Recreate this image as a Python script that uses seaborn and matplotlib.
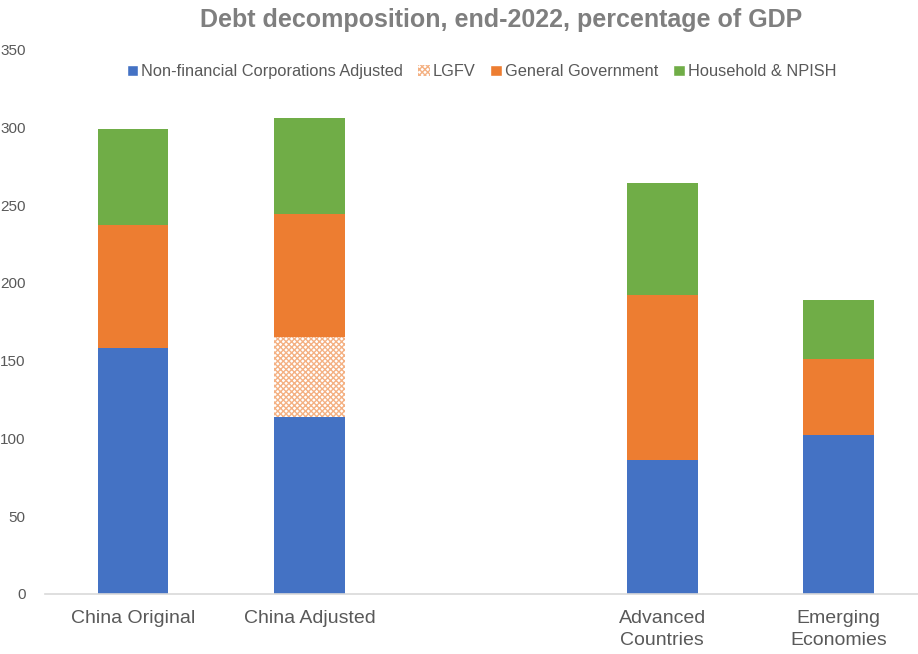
import numpy as np
import pandas as pd
import matplotlib
matplotlib.use("Agg")
import matplotlib.pyplot as plt
import seaborn as sns
from matplotlib.patches import Patch

sns.set_theme(style="white")
plt.rcParams['font.family'] = ['Liberation Sans', 'DejaVu Sans']

categories = ["China Original", "China Adjusted", "", "Advanced\nCountries", "Emerging\nEconomies"]
nfc = [158, 114, 0, 86, 102]
lgfv = [0, 51, 0, 0, 0]
gov = [79, 79, 0, 106, 49]
household = [62, 62, 0, 72, 38]

blue = "#4472C4"
orange = "#ED7D31"
green = "#70AD47"
grey = "#595959"

df = pd.DataFrame({"category": categories, "nfc": nfc, "lgfv": lgfv,
                   "gov": gov, "household": household})
df["c1"] = df["nfc"]
df["c2"] = df["c1"] + df["lgfv"]
df["c3"] = df["c2"] + df["gov"]
df["c4"] = df["c3"] + df["household"]

fig = plt.figure(figsize=(9.18, 6.54), dpi=100)
ax = fig.add_axes([0.049, 0.092, 0.951, 0.832])

# stacked by overlaying cumulative totals, largest first
sns.barplot(data=df, x="category", y="c4", order=categories, color=green,
            saturation=1, width=0.4, linewidth=0, ax=ax)
sns.barplot(data=df, x="category", y="c3", order=categories, color=orange,
            saturation=1, width=0.4, linewidth=0, ax=ax)
sns.barplot(data=df, x="category", y="c2", order=categories, color="white",
            saturation=1, width=0.4, linewidth=0, ax=ax)
sns.barplot(data=df, x="category", y="c2", order=categories, color="white",
            saturation=1, width=0.4, linewidth=0, hatch="xxxxxx",
            edgecolor="#F4B183", fill=False, ax=ax)
sns.barplot(data=df, x="category", y="c1", order=categories, color=blue,
            saturation=1, width=0.4, linewidth=0, ax=ax)

ax.set_xlim(-0.5, 4.45)
ax.set_ylim(0, 350)
ax.set_yticks(np.arange(0, 351, 50))
ax.set_xlabel("")
ax.set_ylabel("")
for s in ["left", "right", "top"]:
    ax.spines[s].set_visible(False)
ax.spines["bottom"].set_color("#D9D9D9")
ax.spines["bottom"].set_linewidth(1.2)
ax.tick_params(axis="y", colors=grey, labelsize=11, length=0, pad=14)
ax.tick_params(axis="x", colors=grey, labelsize=14, length=0, pad=12)
for lbl in ax.get_xticklabels():
    lbl.set_linespacing(1.35)

ax.set_title("Debt decomposition, end-2022, percentage of GDP", fontsize=18,
             fontweight="bold", color="#7F7F7F", pad=16, x=0.523)

handles = [Patch(facecolor=blue, label="Non-financial Corporations Adjusted"),
           Patch(facecolor="white", edgecolor="#F4B183", hatch="xxxxxx", linewidth=0,
                 label="LGFV"),
           Patch(facecolor=orange, label="General Government"),
           Patch(facecolor=green, label="Household & NPISH")]
ax.legend(handles=handles, loc="upper center", bbox_to_anchor=(0.5, 1.0), ncol=4,
          frameon=False, fontsize=11.8, labelcolor=grey, handlelength=0.7,
          handleheight=0.7, handletextpad=0.2, columnspacing=0.9)

fig.savefig("out.png", dpi=100)
